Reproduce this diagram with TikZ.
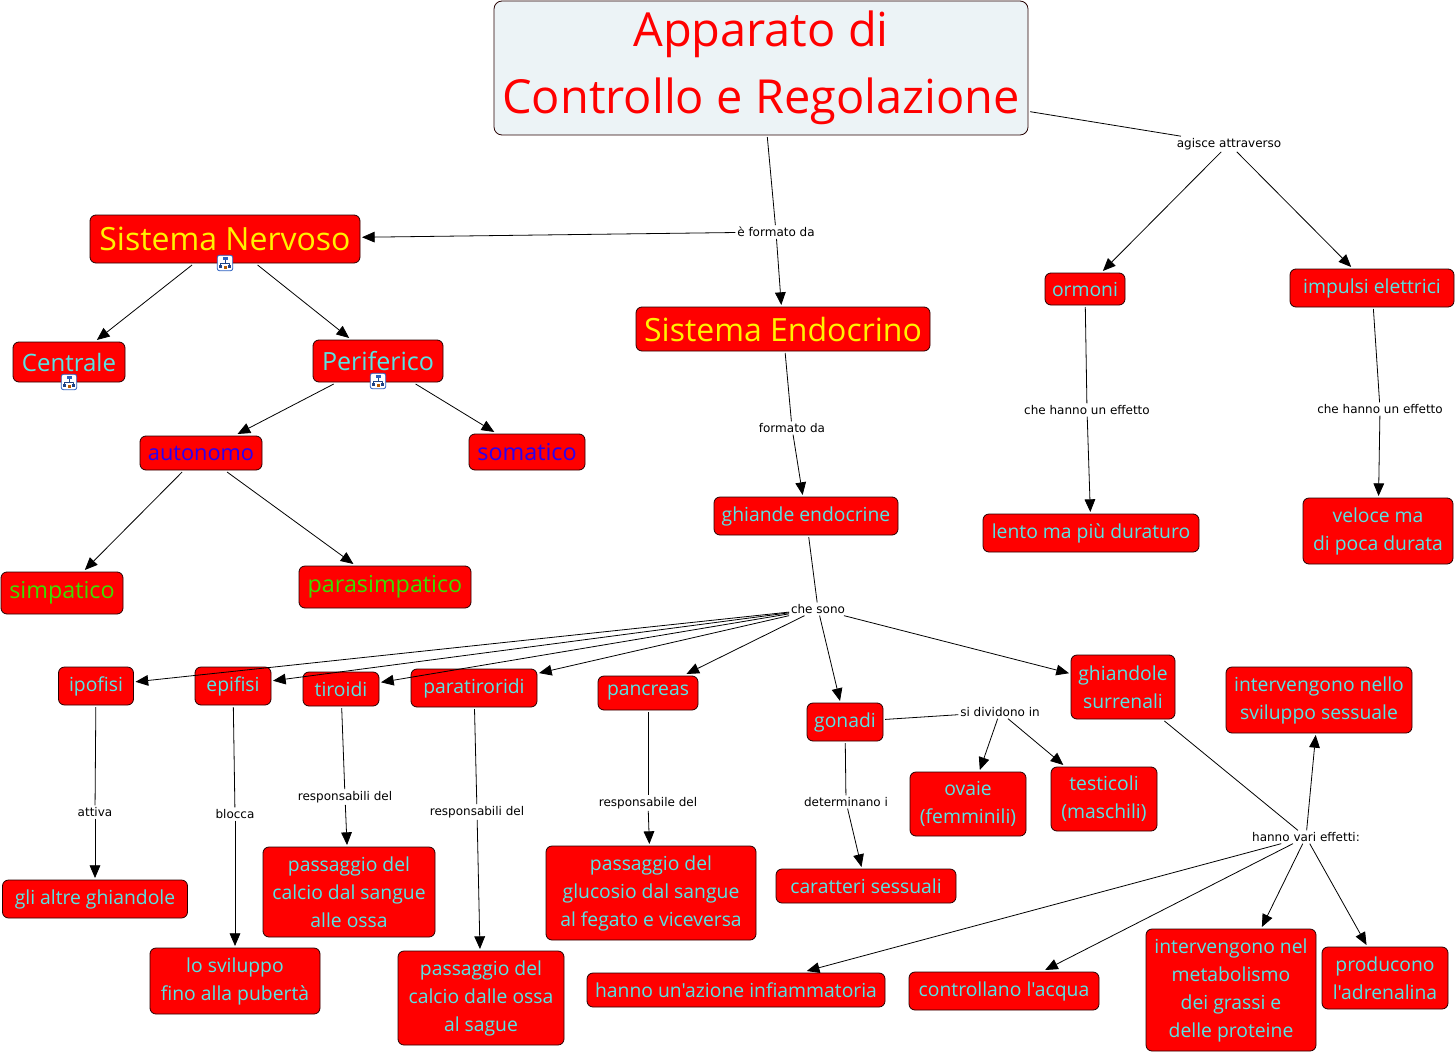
\documentclass[tikz,border=0pt]{standalone}
\usepackage{fontspec}
\usetikzlibrary{arrows.meta}
\newfontfamily\cmapfont{Open Sans}[FakeStretch=1.0]
\newfontfamily\linkfont{DejaVu Sans}
\definecolor{rootfill}{HTML}{ECF3F6}
\definecolor{txtcyan}{HTML}{58E4E4}
\definecolor{txtblue}{HTML}{2A00F0}
\definecolor{txtgreen}{HTML}{3CDC00}
\definecolor{iconblue}{HTML}{2A5FC0}
\tikzset{
  sz/.style 2 args={minimum width=#1*0.75pt, minimum height=#2*0.75pt},
  concept/.style={draw=black!85!red, fill=red, rounded corners=4.5pt, line width=0.6pt,
    inner sep=0pt, outer sep=1.5pt, align=center, text=txtcyan,
    font=\cmapfont\fontsize{14.5}{21}\selectfont},
  big/.style={font=\cmapfont\fontsize{17.5}{21}\selectfont},
  huge/.style={text=yellow, font=\cmapfont\fontsize{24}{30}\selectfont},
  link/.style={inner sep=1.5pt, outer sep=0pt, yshift=-0.75pt, font=\linkfont\fontsize{9}{10}\selectfont},
  lnk/.style={draw=black, line width=0.6pt},
  arr/.style={lnk, -{Triangle[length=9.5pt,width=8pt]}},
  iconbox/.style={draw=iconblue, fill=white, rounded corners=1.5pt, line width=0.6pt,
    minimum size=11.5pt, inner sep=0pt},
}
\begin{document}
\begin{tikzpicture}[x=0.75pt, y=-0.75pt, line join=round]
  \useasboundingbox (0,0) rectangle (1455,1052);
  % concepts
  \node[concept, sz={534}{134}, fill=rootfill, text=red, rounded corners=6pt,
    font=\cmapfont\fontsize{35.2}{50}\selectfont] (root) at (761,68) {Apparato di\\Controllo e Regolazione};
  \node[concept, huge, sz={270}{48}] (nervoso) at (225,239) {Sistema Nervoso};
  \node[concept, huge, sz={294}{44}] (endocrino) at (783,329) {Sistema Endocrino};
  \node[concept, big, sz={112}{40}, font=\cmapfont\fontsize{18}{21}\selectfont] (centrale) at (69,362) {Centrale};
  \node[concept, big, sz={130}{42}, font=\cmapfont\fontsize{18.8}{21}\selectfont] (periferico) at (378,361) {Periferico};
  \node[concept, big, sz={122}{34}, text=txtblue, font=\cmapfont\fontsize{16.3}{21}\selectfont] (autonomo) at (201,453) {autonomo};
  \node[concept, big, sz={116}{36}, text=txtblue] (somatico) at (527,452) {somatico};
  \node[concept, big, sz={122}{42}, text=txtgreen] (simpatico) at (62,593) {simpatico};
  \node[concept, big, sz={172}{42}, text=txtgreen] (parasimp) at (385,587) {parasimpatico};
  \node[concept, sz={80}{32}] (ormoni) at (1085,289) {ormoni};
  \node[concept, sz={164}{38}] (impulsi) at (1372,288) {impulsi elettrici};
  \node[concept, sz={216}{38}] (lento) at (1091,533) {lento ma più duraturo};
  \node[concept, sz={150}{66}] (veloce) at (1378,531) {veloce ma\\di poca durata};
  \node[concept, sz={184}{38}] (ghiande) at (806,516) {ghiande endocrine};
  \node[concept, sz={75}{38}] (ipofisi) at (96,686) {ipofisi};
  \node[concept, sz={76}{38}] (epifisi) at (233,686) {epifisi};
  \node[concept, sz={76}{34}] (tiroidi) at (341,689) {tiroidi};
  \node[concept, sz={126}{38}] (paratiroidi) at (474,688) {paratiroridi};
  \node[concept, sz={100}{34}] (pancreas) at (648,693) {pancreas};
  \node[concept, sz={76}{38}] (gonadi) at (845,722) {gonadi};
  \node[concept, sz={104}{64}] (surrenali) at (1123,687) {ghiandole\\surrenali};
  \node[concept, sz={186}{66}] (sviluppo) at (1319,700) {intervengono nello\\sviluppo sessuale};
  \node[concept, sz={116}{64}] (ovaie) at (968,804) {ovaie\\(femminili)};
  \node[concept, sz={106}{64}] (testicoli) at (1104,799) {testicoli\\(maschili)};
  \node[concept, sz={185}{38}] (altre) at (95,899) {gli altre ghiandole};
  \node[concept, sz={170}{66}] (puberta) at (235,981) {lo sviluppo\\fino alla pubertà};
  \node[concept, sz={172}{90}] (calcioa) at (349,892) {passaggio del\\calcio dal sangue\\alle ossa};
  \node[concept, sz={166}{94}] (calciob) at (481,998) {passaggio del\\calcio dalle ossa\\al sague};
  \node[concept, sz={210}{94}] (glucosio) at (651,893) {passaggio del\\glucosio dal sangue\\al fegato e viceversa};
  \node[concept, sz={180}{34}] (caratteri) at (866,886) {caratteri sessuali};
  \node[concept, sz={298}{34}] (azione) at (736,990) {hanno un'azione infiammatoria};
  \node[concept, sz={190}{38}] (acqua) at (1004,991) {controllano l'acqua};
  \node[concept, sz={170}{122}] (metabol) at (1231,990) {intervengono nel\\metabolismo\\dei grassi e\\delle proteine};
  \node[concept, sz={126}{62}] (adren) at (1385,978) {producono\\l'adrenalina};
  % link labels
  \node[link] (agisce) at (1229,143) {agisce attraverso};
  \node[link] (formatoa) at (776,231) {è formato da};
  \node[link] (formatob) at (792,427) {formato da};
  \node[link] (effettoa) at (1087,409) {che hanno un effetto};
  \node[link] (effettob) at (1380,408) {che hanno un effetto};
  \node[link] (chesono) at (818,608) {che sono};
  \node[link] (attiva) at (95,811) {attiva};
  \node[link] (blocca) at (235,813) {blocca};
  \node[link] (respa) at (345,796) {responsabili del};
  \node[link] (respb) at (477,811) {responsabili del};
  \node[link] (respc) at (648,802) {responsabile del};
  \node[link] (determ) at (846,801) {determinano i};
  \node[link] (dividono) at (1000,711) {si dividono in};
  \node[link] (effetti) at (1306,836) {hanno vari effetti:};
  % connectors
  \foreach \a/\b in {root/formatoa, root/agisce, endocrino/formatob, ghiande/chesono,
      ormoni/effettoa, impulsi/effettob, ipofisi/attiva, epifisi/blocca, tiroidi/respa,
      paratiroidi/respb, pancreas/respc, gonadi/determ, gonadi/dividono, surrenali/effetti}{
    \draw[lnk] (\a) -- (\b);
  }
  \foreach \a/\b in {formatoa/nervoso, formatoa/endocrino, agisce/ormoni, agisce/impulsi,
      nervoso/centrale, nervoso/periferico, periferico/autonomo, periferico/somatico,
      autonomo/simpatico, autonomo/parasimp, formatob/ghiande, effettoa/lento, effettob/veloce,
      chesono/ipofisi, chesono/epifisi, chesono/tiroidi, chesono/paratiroidi, chesono/pancreas,
      chesono/gonadi, chesono/surrenali, attiva/altre, blocca/puberta, respa/calcioa,
      respb/calciob, respc/glucosio, determ/caratteri, dividono/ovaie, dividono/testicoli,
      effetti/sviluppo, effetti/azione, effetti/acqua, effetti/metabol, effetti/adren}{
    \draw[arr] (\a) -- (\b);
  }
  % submap icons
  \foreach \ic/\cx/\cy in {iconnerv/225/263, iconcent/69/382, iconperi/378/381}{
    \node[iconbox] (\ic) at (\cx,\cy) {};
    \draw[iconblue!70!black, line width=0.35pt] (\cx,\cy-4) -- (\cx,\cy) (\cx-4.5,\cy+3) -- (\cx-4.5,\cy) -- (\cx+4.5,\cy) -- (\cx+4.5,\cy+3);
    \fill[iconblue] (\cx-2.5,\cy-6.5) rectangle (\cx+2.5,\cy-3);
    \foreach \dx in {-4.5,4.5}{ \fill[iconblue!70!black] (\cx+\dx-1.5,\cy+1.5) rectangle (\cx+\dx+1.5,\cy+5); }
    \fill[orange!70!black] (\cx-1.5,\cy+2.5) rectangle (\cx+1.5,\cy+6);
  }
\end{tikzpicture}
\end{document}
